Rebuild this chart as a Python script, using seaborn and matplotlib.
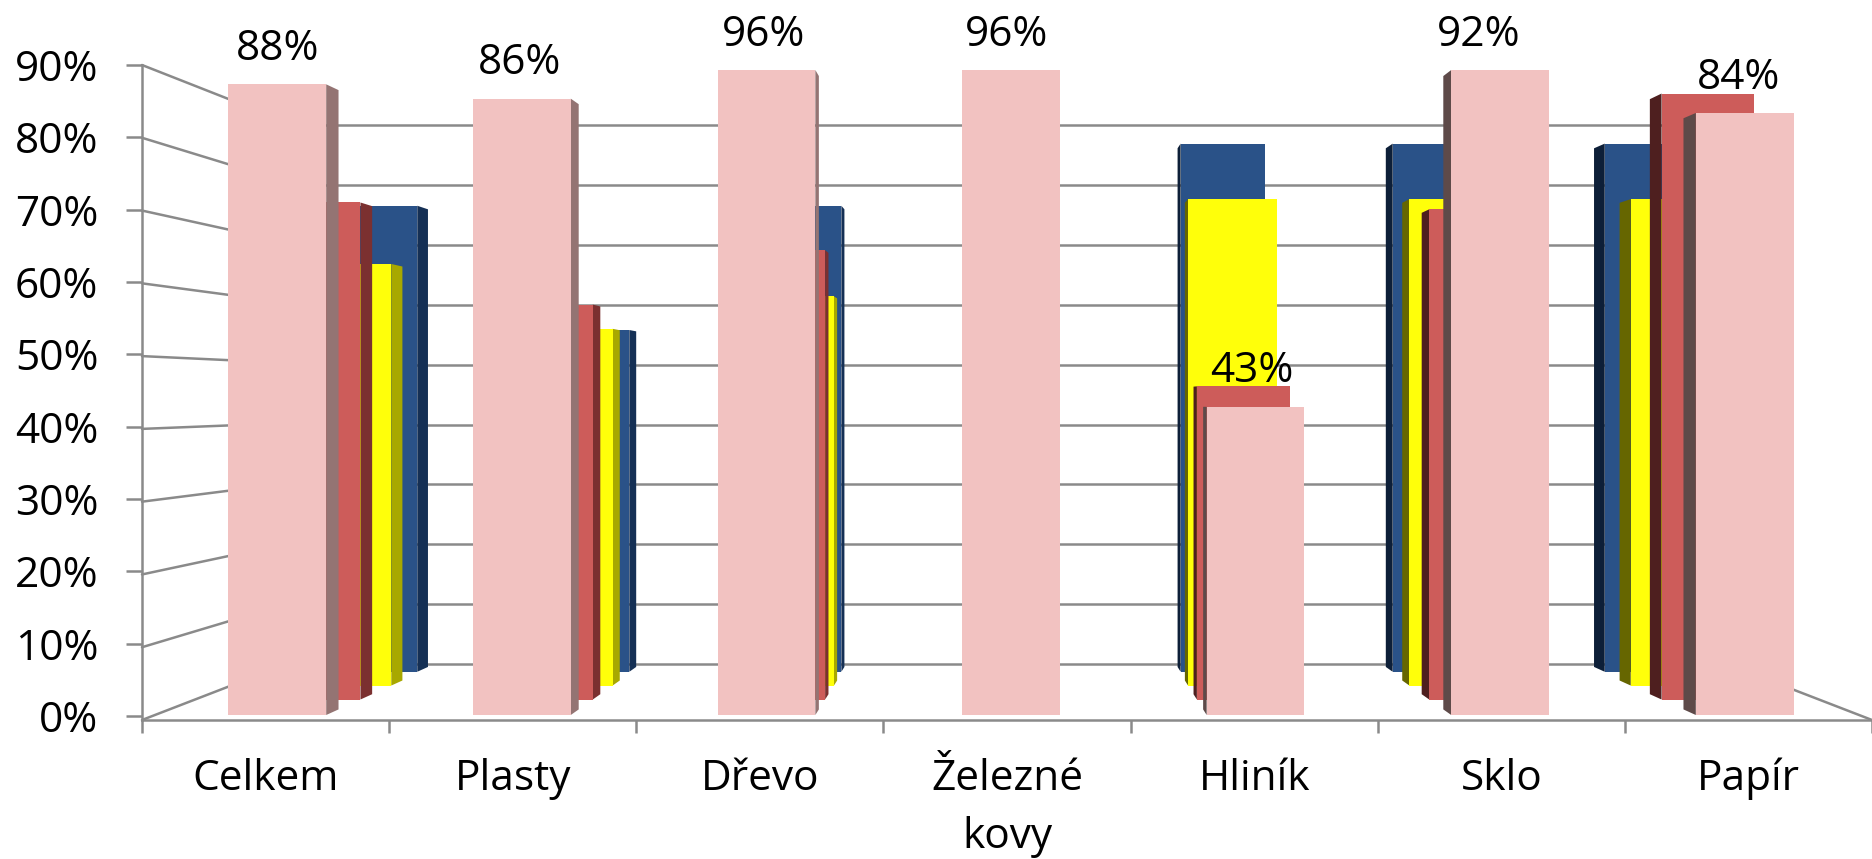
import numpy as np
import pandas as pd
import matplotlib
matplotlib.use("Agg")
import matplotlib.pyplot as plt
import seaborn as sns

# ---- data ----
categories = ["Celkem", "Plasty", "Dřevo", "Železné\nkovy", "Hliník", "Sklo", "Papír"]
pink_values = [88, 86, 96, 96, 43, 92, 84]
red_values = [73, 58, 66, np.nan, 46, 72, 89]
yellow_values = [65, 55, 60, np.nan, 75, 75, 75]
blue_values = [75, 55, 75, np.nan, 85, 85, 85]
percent_ticks = [0, 10, 20, 30, 40, 50, 60, 70, 80, 90]

# ---- style / layout ----
W, H = 1872, 859
FS = 30.5
GREY = "#8a8a8a"
LW = 1.8
VP_X, VP_Y = 1011, 405            # vanishing point, pixels
FRONT = (155, 1867, 70, 715)      # layer at scale 1: left, right, top, bottom
BACK_SCALE = 0.836
SIDE = 0.982
YMAX = 90
VP_VAL = 43.2
VP_CAT = 3
label_dx = [0, -2, -3, -4, -4, -21, -6]

sns.set_theme(style="white")
plt.rcParams["font.family"] = ["Open Sans", "DejaVu Sans"]

fig = plt.figure(figsize=(W / 100, H / 100), dpi=100, facecolor="white")


def axes_px(left, right, top, bottom, z):
    ax = fig.add_axes([left / W, 1 - bottom / H, (right - left) / W, (bottom - top) / H], zorder=z)
    ax.patch.set_alpha(0)
    return ax


def layer_axes(s, z, dy=0):
    l, r, t, b = FRONT
    return axes_px(VP_X + s * (l - VP_X), VP_X + s * (r - VP_X),
                   VP_Y + s * (t - VP_Y) + dy, VP_Y + s * (b - VP_Y) + dy, z)


# ---- front frame: y axis, x axis, walls ----
wall = axes_px(142, 1872, 65, 720, 0)
wall.set_xlim(0, 7)
wall.set_ylim(-0.55, YMAX)
sns.despine(ax=wall, top=True, right=True)
for sp in ("left", "bottom"):
    wall.spines[sp].set_color(GREY)
    wall.spines[sp].set_linewidth(LW)
wall.set_yticks(percent_ticks)
wall.set_yticklabels([f"{p}%" for p in percent_ticks], fontsize=FS, color="black")
wall.tick_params(axis="y", length=11.5, width=LW, color=GREY, pad=20, left=True)
wall.set_xticks(np.arange(7) + 0.5)
wall.set_xticklabels(categories, fontsize=FS, color="black", linespacing=1.5)
wall.set_xticks(np.arange(8), minor=True)
wall.tick_params(axis="x", which="major", length=0, pad=27)
wall.tick_params(axis="x", which="minor", length=9, width=LW, color=GREY, bottom=True)

ratio = BACK_SCALE / 1.011
bx = 3.5 * (1 - ratio)
for p in percent_ticks:
    y_front = p - 0.55 * (1 - p / YMAX)
    y_back = 43 + ratio * (p - 43)
    wall.plot([0, bx], [y_front, y_back], color=GREY, lw=LW, clip_on=False)
wall.plot([7, 7 - bx], [-0.55, 43 + ratio * (0 - 43)], color=GREY, lw=LW, clip_on=False)

# ---- back wall grid ----
back = layer_axes(BACK_SCALE, 1)
back.set_xlim(0, 1)
back.set_ylim(0, YMAX)
back.set_yticks(percent_ticks)
back.set_xticks([])
back.tick_params(length=0, labelleft=False)
back.grid(axis="y", color=GREY, lw=LW, clip_on=False)
back.set_axisbelow(True)
sns.despine(ax=back, left=True, bottom=True)

# ---- bar layers, back to front ----
series = [
    (blue_values, 0.867, -2, "#2A5288", "#153055", "#0D1F38", 2),
    (yellow_values, 0.905, 0, "#FFFF0A", "#A8A800", "#666600", 3),
    (red_values, 0.950, 0, "#CD5C5A", "#7B3030", "#4E1F1F", 4),
    (pink_values, 1.000, 0, "#F2C2C1", "#947473", "#5E4A49", 5),
]
BAR_W = 0.4
pink_ax = None
for values, s, dy, face, side_l, side_r, z in series:
    ax = layer_axes(s, z, dy)
    df = pd.DataFrame({"cat": categories, "val": values})
    sns.barplot(data=df, x="cat", y="val", color=face, saturation=1, width=BAR_W,
                ax=ax, errorbar=None, zorder=3, linewidth=0)
    ax.set_xlim(-0.5, 6.5)
    ax.set_ylim(0, YMAX)
    ax.axis("off")
    for k, v in enumerate(values):
        if np.isnan(v) or k == VP_CAT:
            continue
        top = min(v, YMAX)
        edge = k + BAR_W / 2 if k < VP_CAT else k - BAR_W / 2
        e2 = VP_CAT + SIDE * (edge - VP_CAT)
        t2 = VP_VAL + SIDE * (top - VP_VAL)
        b2 = VP_VAL + SIDE * (0 - VP_VAL)
        ax.fill([edge, e2, e2, edge], [top, t2, b2, 0],
                color=side_l if k < VP_CAT else side_r, lw=0, zorder=2, clip_on=False)
    pink_ax = ax

# ---- data labels over the front series ----
for k, v in enumerate(pink_values):
    pink_ax.annotate(f"{v}%", (k, min(v, YMAX)), xytext=(label_dx[k] * 0.72, 25.5),
                     textcoords="offset points", ha="center", va="center",
                     fontsize=FS, color="black", annotation_clip=False)

fig.savefig("out.png", dpi=100, facecolor="white")
